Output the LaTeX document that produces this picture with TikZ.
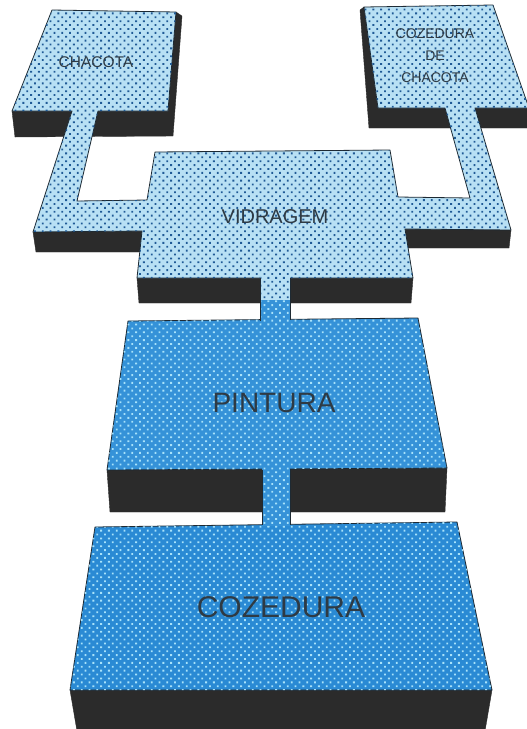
\documentclass[tikz,border=0pt]{standalone}
\usepackage{fontspec}
\setmainfont{Liberation Sans}
\usepackage{tikz}
\usetikzlibrary{patterns.meta}
\definecolor{upface}{HTML}{B8E0F4}
\definecolor{updots}{HTML}{1F5A96}
\definecolor{pintface}{HTML}{3592D8}
\definecolor{cozface}{HTML}{2A8AD4}
\definecolor{lowdots}{HTML}{A8E2FA}
\definecolor{sidegray}{HTML}{2B2B2B}
\definecolor{edgegray}{HTML}{1E2A33}
\definecolor{labelgray}{HTML}{2E3A44}

% halftone screen of the printed faces
\tikzdeclarepattern{
	name=halftone,
	type=uncolored,
	bottom left={(-.5pt,-.5pt)},
	top right={(6pt,6pt)},
	tile size={(5.5pt,5.5pt)},
	tile transformation={rotate=45},
	code={\pgfpathcircle{\pgfpoint{2.75pt}{2.75pt}}{1.3pt}\pgfusepath{fill}}
}

\begin{document}
\begin{tikzpicture}[x=1pt,y=-1pt,
	side/.style={fill=sidegray,draw=sidegray,line join=round},
	face/.style={draw=edgegray,line width=0.8pt,line join=round},
	upscreen/.style={fill=upface,postaction={pattern=halftone,pattern color=updots}},
	lowscreen/.style={fill=#1,postaction={pattern=halftone,pattern color=lowdots}},
	lbl/.style={text=labelgray,inner sep=0pt,align=center}]
	\useasboundingbox (0,0) rectangle (527,729);
	
	% draw dark sides
	\draw[side] (12,111) -- (15,137) -- (173,136) -- (182,16) -- (176,12) -- cycle;
	\draw[side] (364,7) -- (360,10) -- (369,128) -- (530,128) -- (530,108) -- (378,108) -- cycle;
	\draw[side] (33,232) -- (36,252) -- (140,252) -- (142,231) -- cycle;
	\draw[side] (405,229) -- (407,248) -- (509,248) -- (511,230) -- cycle;
	\draw[side] (137,278) -- (139,303) -- (411,303) -- (413,278) -- cycle;
	\draw[side] (107,470) -- (110,512) -- (445,512) -- (447,468) -- cycle;
	\draw[side] (70,690) -- (77,731) -- (485,731) -- (492,690) -- cycle;
	
	% draw top faces
	\draw[face,upscreen] (52,10) -- (176,12) -- (168,111) -- (98,111) -- (77,201)
		-- (147,200) -- (155,152) -- (390,150) -- (398,197) -- (470,198)
		-- (445,108) -- (378,108) -- (364,7) -- (493,5) -- (529,108)
		-- (475,108) -- (511,230) -- (405,229) -- (413,278) -- (137,278)
		-- (142,231) -- (33,232) -- (72,111) -- (12,111) -- cycle;
	\draw[face,lowscreen=pintface] (128,321) -- (418,318) -- (447,468) -- (107,470) -- cycle;
	\draw[face,lowscreen=cozface] (95,527) -- (457,522) -- (492,690) -- (70,690) -- cycle;
	
	% draw connectors
	\fill[upscreen] (260.4,276) rectangle (289.6,300);
	\fill[lowscreen=pintface] (260.4,300) rectangle (289.6,323);
	\draw[face] (260,278) -- (260,320.5);
	\draw[face] (290,278) -- (290,319.5);
	\fill[lowscreen=pintface] (262.4,467) rectangle (289.6,526);
	\draw[face] (262,469.5) -- (262,525);
	\draw[face] (290,469) -- (290,524.5);
	
	% draw labels
	\node[lbl,font=\fontsize{15.5}{18}\selectfont] (chacota) at (96,62) {CHACOTA};
	\node[lbl,font=\fontsize{14}{22}\selectfont] (cozchacota) at (435,56) {COZEDURA\\DE\\CHACOTA};
	\node[lbl,font=\fontsize{20}{22}\selectfont] (vidragem) at (275,217) {VIDRAGEM};
	\node[lbl,font=\fontsize{28}{32}\selectfont] (pintura) at (274,403) {PINTURA};
	\node[lbl,font=\fontsize{30}{34}\selectfont] (cozedura) at (281,607) {COZEDURA};
\end{tikzpicture}
\end{document}
